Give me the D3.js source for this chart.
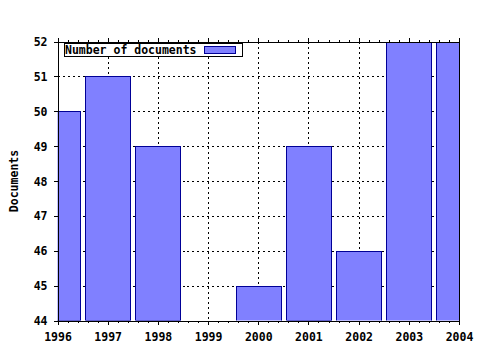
<!DOCTYPE html>
<html>
<head>
<meta charset="utf-8">
<script src="https://cdn.jsdelivr.net/npm/d3@7"></script>
<style>
  body { margin: 0; background: #fff; }
  svg { display: block; }
</style>
</head>
<body>
<svg id="chart" width="480" height="350"></svg>
<script>
const years = [1996, 1997, 1998, 1999, 2000, 2001, 2002, 2003, 2004];
const documents = [50, 51, 49, 44, 45, 49, 46, 52, 52];
const yTicks = [44, 45, 46, 47, 48, 49, 50, 51, 52];
const seriesName = "Number of documents";

const width = 480, height = 350;
const margin = { top: 41.5, right: 21, bottom: 29.5, left: 57.5 };
const font = "'DejaVu Sans Mono', monospace";

const svg = d3.select("#chart");

const x = d3.scaleLinear()
  .domain([d3.min(years), d3.max(years)])
  .range([margin.left, width - margin.right]);
const y = d3.scaleLinear()
  .domain([d3.min(yTicks), d3.max(yTicks)])
  .range([height - margin.bottom, margin.top]);

const step = x(years[1]) - x(years[0]);
const barW = step * 0.9;

svg.append("clipPath").attr("id", "plot")
  .append("rect")
    .attr("x", x.range()[0]).attr("y", y.range()[1])
    .attr("width", x.range()[1] - x.range()[0])
    .attr("height", y.range()[0] - y.range()[1]);

// dotted grid
const grid = svg.append("g")
  .attr("stroke", "#000")
  .attr("stroke-dasharray", "2,3")
  .attr("shape-rendering", "crispEdges");
grid.selectAll("line.v")
  .data(years.slice(1, -1))
  .join("line")
    .attr("class", "v")
    .attr("x1", d => Math.round(x(d)) + 0.5).attr("x2", d => Math.round(x(d)) + 0.5)
    .attr("y1", y.range()[1]).attr("y2", y.range()[0]);
grid.selectAll("line.h")
  .data(yTicks.slice(1, -1))
  .join("line")
    .attr("class", "h")
    .attr("y1", d => Math.round(y(d)) + 0.5).attr("y2", d => Math.round(y(d)) + 0.5)
    .attr("x1", x.range()[0]).attr("x2", x.range()[1]);

// bars
svg.append("g")
  .attr("clip-path", "url(#plot)")
  .selectAll("rect")
  .data(years.map((yr, i) => ({ yr, v: documents[i] })).filter(d => d.v > y.domain()[0]))
  .join("rect")
    .attr("x", d => Math.round(x(d.yr) - barW / 2) + 0.5)
    .attr("y", d => Math.round(y(d.v)) + 0.5)
    .attr("width", Math.round(barW))
    .attr("height", d => Math.round(y.range()[0] - y(d.v)))
    .attr("fill", "#8080ff")
    .attr("stroke", "#000096")
    .attr("stroke-width", 1.4)
    .attr("shape-rendering", "crispEdges");

// minor tick positions (5 per year)
const minor = d3.range(years[0], years[years.length - 1], 0.2)
  .filter(v => Math.abs(v - Math.round(v)) > 0.01);

// axes
const xAxis = svg.append("g")
  .attr("transform", `translate(0,${y.range()[0]})`)
  .call(d3.axisBottom(x).tickValues(years).tickFormat(d3.format("d")).tickSize(4).tickPadding(8));
const xTop = svg.append("g")
  .attr("transform", `translate(0,${y.range()[1]})`)
  .call(d3.axisTop(x).tickValues(years).tickFormat("").tickSize(4));
const yAxis = svg.append("g")
  .attr("transform", `translate(${x.range()[0]},0)`)
  .call(d3.axisLeft(y).tickValues(yTicks).tickFormat(d3.format("d")).tickSize(4).tickPadding(6));
const yRight = svg.append("g")
  .attr("transform", `translate(${x.range()[1]},0)`)
  .call(d3.axisRight(y).tickValues(yTicks).tickFormat("").tickSize(0));

svg.append("g")
  .attr("transform", `translate(0,${y.range()[0]})`)
  .call(d3.axisBottom(x).tickValues(minor).tickFormat("").tickSize(2))
  .select(".domain").remove();
svg.append("g")
  .attr("transform", `translate(0,${y.range()[1]})`)
  .call(d3.axisTop(x).tickValues(minor).tickFormat("").tickSize(2))
  .select(".domain").remove();

svg.selectAll(".domain").attr("stroke", "#000").attr("shape-rendering", "crispEdges");
svg.selectAll(".tick line").attr("stroke", "#000").attr("shape-rendering", "crispEdges");
[xAxis, yAxis].forEach(g => g.selectAll("text")
  .attr("fill", "#000")
  .style("font-family", font)
  .style("font-weight", "bold")
  .style("font-size", "11.5px"));
yAxis.selectAll("text").attr("dy", "0.35em");

// axis title
svg.append("text")
  .attr("transform", `translate(18,${(y.range()[0] + y.range()[1]) / 2}) rotate(-90)`)
  .attr("text-anchor", "middle")
  .style("font-family", font)
  .style("font-weight", "bold")
  .style("font-size", "11.5px")
  .text("Documents");

// legend
const legend = svg.append("g").attr("shape-rendering", "crispEdges");
legend.append("rect")
  .attr("x", 64.5).attr("y", 43.5).attr("width", 178).attr("height", 13)
  .attr("fill", "#fff").attr("stroke", "#000");
legend.append("text")
  .attr("x", 65).attr("y", 54)
  .style("font-family", font)
  .style("font-weight", "bold")
  .style("font-size", "11.5px")
  .text(seriesName);
legend.append("rect")
  .attr("x", 204.5).attr("y", 46.5).attr("width", 31).attr("height", 7)
  .attr("fill", "#8080ff").attr("stroke", "#000096");
</script>
</body>
</html>
